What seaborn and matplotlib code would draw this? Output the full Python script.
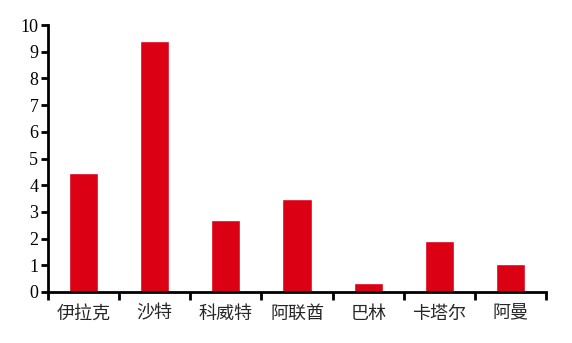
import matplotlib
matplotlib.use("Agg")
import matplotlib.pyplot as plt
import seaborn as sns
import pandas as pd
import numpy as np

categories = ["伊拉克", "沙特", "科威特", "阿联酋", "巴林", "卡塔尔", "阿曼"]
values = [4.45, 9.4, 2.68, 3.47, 0.35, 1.9, 1.03]
yticks = [0, 1, 2, 3, 4, 5, 6, 7, 8, 9, 10]

sns.set_theme(style="ticks")
plt.rcParams['font.family'] = ['Noto Sans CJK SC', 'DejaVu Sans']

df = pd.DataFrame({"country": categories, "value": values})

fig = plt.figure(figsize=(5.72, 3.43), dpi=100)
ax = fig.add_axes([48/572, 51/343, (546-48)/572, (292-25)/343])
sns.barplot(data=df, x="country", y="value", color="#DC0014", saturation=1,
            width=0.41, ax=ax)

ax.set_xlim(-0.5, len(categories) - 0.5)
ax.set_ylim(0, 10)
ax.set_yticks(yticks)
ax.set_yticklabels([str(t) for t in yticks], fontfamily="Liberation Serif", fontsize=13)
ax.set_xlabel("")
ax.set_ylabel("")

# x major ticks at boundaries, labels at centers
ax.set_xticks(np.arange(-0.5, len(categories), 1.0))
ax.set_xticklabels([])
ax.set_xticks(np.arange(len(categories)), minor=True)
ax.set_xticklabels(categories, minor=True, fontsize=13)
ax.tick_params(axis="x", which="minor", length=0, pad=9)
ax.tick_params(axis="x", which="major", length=6, width=2, direction="out", color="black")
ax.tick_params(axis="y", length=5, width=2, direction="out", color="black", pad=2, labelcolor="black")

for s in ["top", "right"]:
    ax.spines[s].set_visible(False)
for s in ["left", "bottom"]:
    ax.spines[s].set_linewidth(2)
    ax.spines[s].set_color("black")

fig.savefig("out.png", dpi=100)
